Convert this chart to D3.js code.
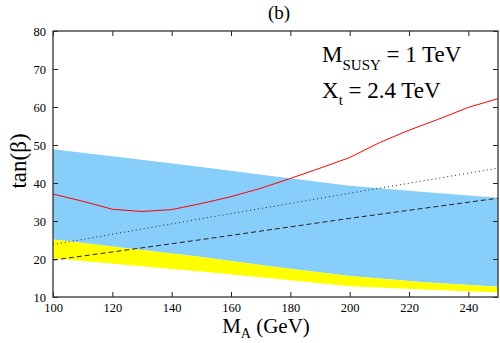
<!DOCTYPE html>
<html>
<head>
<meta charset="utf-8">
<script src="https://cdn.jsdelivr.net/npm/d3@7"></script>
<style>
  body { margin: 0; background: #fff; }
</style>
</head>
<body>
<div id="chart"></div>
<script>
// band boundaries (tan beta) at these M_A values
var bandMA = [100, 125, 150, 175, 200, 225, 250];
var blueUpper = [48.9, 46.6, 44.2, 41.7, 39.3, 37.6, 36.1];
var yellowUpper = [25.1, 22.8, 20.5, 17.9, 15.5, 13.9, 12.7];
var yellowLower = [20.2, 18.4, 16.7, 14.8, 12.8, 12.0, 11.2];

// red solid curve
var redMA = [100, 110, 120, 130, 140, 150, 160, 170, 180, 190, 200, 210, 220, 230, 240, 250];
var redTanB = [37.1, 35.2, 33.1, 32.5, 33.0, 34.6, 36.4, 38.6, 41.2, 43.9, 46.7, 50.6, 53.9, 56.8, 59.9, 62.2];

// black dotted and dashed lines
var lineMA = [100, 150, 200, 250];
var dottedTanB = [23.8, 30.6, 37.3, 43.9];
var dashedTanB = [19.7, 25.1, 30.7, 36.0];

var xTicks = [100, 120, 140, 160, 180, 200, 220, 240];
var yTicks = [10, 20, 30, 40, 50, 60, 70, 80];

var serif = "'Liberation Serif', 'Nimbus Roman', 'Nimbus Roman No9 L', FreeSerif, Tinos, 'Noto Serif', 'DejaVu Serif', Times, serif";

var margin = {top: 31, right: 2, bottom: 46, left: 53},
    width = 500 - margin.left - margin.right,
    height = 343 - margin.top - margin.bottom;

var svg = d3.select("#chart")
    .append("svg")
    .attr("width", 500)
    .attr("height", 343)
    .attr("font-family", serif);

var g = svg.append("g")
    .attr("transform", `translate(${margin.left}, ${margin.top})`);

g.append("clipPath").attr("id", "clip")
    .append("rect").attr("width", width).attr("height", height);

var plot = g.append("g").attr("clip-path", "url(#clip)");

var x = d3.scaleLinear().domain([100, 250]).range([0, width]);
var y = d3.scaleLinear().domain([10, 80]).range([height, 0]);

// blue band
var blueArea = d3.area()
    .x((d, i) => x(bandMA[i]))
    .y0((d, i) => y(yellowUpper[i]))
    .y1((d, i) => y(blueUpper[i]));
plot.append("path")
    .datum(bandMA)
    .attr("d", blueArea)
    .attr("fill", "#87cefa");

// yellow band
var yellowArea = d3.area()
    .x((d, i) => x(bandMA[i]))
    .y0((d, i) => y(yellowLower[i]))
    .y1((d, i) => y(yellowUpper[i]));
plot.append("path")
    .datum(bandMA)
    .attr("d", yellowArea)
    .attr("fill", "#ffff00");

// dashed line
plot.append("path")
    .datum(lineMA)
    .attr("d", d3.line().x((d, i) => x(lineMA[i])).y((d, i) => y(dashedTanB[i])))
    .attr("fill", "none")
    .attr("stroke", "#222")
    .attr("stroke-width", 1)
    .attr("stroke-dasharray", "5,3");

// dotted line
plot.append("path")
    .datum(lineMA)
    .attr("d", d3.line().x((d, i) => x(lineMA[i])).y((d, i) => y(dottedTanB[i])))
    .attr("fill", "none")
    .attr("stroke", "#222")
    .attr("stroke-width", 1)
    .attr("stroke-dasharray", "1,3");

// red curve
plot.append("path")
    .datum(redMA)
    .attr("d", d3.line().x((d, i) => x(redMA[i])).y((d, i) => y(redTanB[i])))
    .attr("fill", "none")
    .attr("stroke", "#ff0000")
    .attr("stroke-width", 1);

// axes, ticks pointing inward on all four sides
var tickStyle = sel => {
    sel.attr("font-family", serif).attr("font-size", 12.5);
    sel.select(".domain").remove();
    sel.selectAll("line").attr("stroke", "#222");
    sel.selectAll("text").attr("fill", "#000");
};

g.append("g")
    .attr("transform", `translate(0, ${height})`)
    .call(d3.axisBottom(x).tickValues(xTicks).tickSize(-5).tickPadding(6).tickFormat(d3.format("d")))
    .call(tickStyle);

g.append("g")
    .call(d3.axisTop(x).tickValues(xTicks).tickSize(-5).tickFormat(""))
    .call(tickStyle);

g.append("g")
    .call(d3.axisLeft(y).tickValues(yTicks).tickSize(-5).tickPadding(7).tickFormat(d3.format("d")))
    .call(tickStyle);

g.append("g")
    .attr("transform", `translate(${width}, 0)`)
    .call(d3.axisRight(y).tickValues(yTicks).tickSize(-5).tickFormat(""))
    .call(tickStyle);

// frame
g.append("rect")
    .attr("width", width)
    .attr("height", height)
    .attr("fill", "none")
    .attr("stroke", "#333")
    .attr("stroke-width", 1.3);

// title
svg.append("text")
    .attr("x", 279)
    .attr("y", 19)
    .attr("text-anchor", "middle")
    .attr("font-size", 19)
    .text("(b)");

// annotation
var ann1 = svg.append("text")
    .attr("x", 322)
    .attr("y", 62)
    .attr("font-size", 23);
ann1.append("tspan").text("M");
ann1.append("tspan").attr("dy", 8).attr("font-size", 15).text("SUSY");
ann1.append("tspan").attr("dy", -8).text(" = 1 TeV");

var ann2 = svg.append("text")
    .attr("x", 322)
    .attr("y", 98)
    .attr("font-size", 23);
ann2.append("tspan").text("X");
ann2.append("tspan").attr("dy", 7).attr("font-size", 15).text("t");
ann2.append("tspan").attr("dy", -7).text(" = 2.4 TeV");

// axis titles
var xt = svg.append("text")
    .attr("x", 266)
    .attr("y", 333)
    .attr("text-anchor", "middle")
    .attr("font-size", 21);
xt.append("tspan").text("M");
xt.append("tspan").attr("dy", 5).attr("font-size", 14).text("A");
xt.append("tspan").attr("dy", -5).text(" (GeV)");

svg.append("g")
    .attr("transform", "translate(26, 161)")
    .append("text")
    .attr("transform", "rotate(-90)")
    .attr("text-anchor", "middle")
    .attr("font-size", 23)
    .text("tan(β)");
</script>
</body>
</html>
